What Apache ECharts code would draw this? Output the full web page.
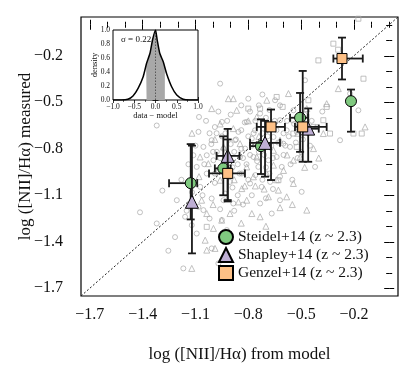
<!DOCTYPE html>
<html>
<head>
<meta charset="utf-8">
<script src="https://cdn.jsdelivr.net/npm/echarts@6/dist/echarts.min.js"></script>
<style>
  html, body { margin: 0; padding: 0; background: #fff; }
  #chart { width: 415px; height: 369px; }
</style>
</head>
<body>
<div id="chart"></div>
<script>
// --- ticks ---
const majorTicks = [-1.7, -1.4, -1.1, -0.8, -0.5, -0.2];
const minorTicks = [-1.6, -1.5, -1.3, -1.2, -1.0, -0.9, -0.7, -0.6, -0.4, -0.3, -0.1, 0.0];
const oneToOne = [-1.75, 0.05];

// --- background sample (grey open markers) ---
const bgCircles = [
  [-1.32,-0.65],[-1.415,-1.21],[-1.288,-1.07],[-1.216,-1.37],[-1.254,-1.458],[-1.169,-1.572],
  [-1.32,-1.282],[-1.083,-0.691],[-1.08,-0.595],[-1.055,-0.788],[-1.036,-0.842],[-1.008,-0.745],
  [-0.998,-0.874],[-0.979,-0.82],[-0.96,-0.38],[-0.95,-0.627],[-0.932,-1.089],[-0.922,-0.853],
  [-0.904,-1.014],[-0.885,-1.153],[-0.875,-0.745],[-0.856,-0.691],[-0.847,-0.853],[-0.837,-0.96],
  [-0.818,-0.799],[-0.809,-0.627],[-0.80,-0.477],[-0.79,-1.024],[-0.78,-0.734],[-0.771,-0.853],
  [-0.762,-0.681],[-0.743,-0.917],[-0.733,-0.573],[-0.724,-1.046],[-0.714,-0.767],[-0.695,-0.681],
  [-0.686,-0.874],[-0.676,-1.014],[-0.657,-0.724],[-0.648,-0.487],[-0.639,-0.853],[-0.62,-0.616],
  [-0.61,-0.917],[-0.601,-0.767],[-0.582,-0.681],[-0.563,-0.788],[-0.544,-0.552],[-0.525,-0.691],
  [-0.497,-1.078],[-0.421,-0.917],[-0.478,-0.358],[-0.279,-0.745],[-0.222,-0.444],[-0.175,-0.552],
  [-0.733,-1.153],[-0.62,-1.132],[-0.667,-1.218],[-0.941,-1.132],[-0.922,-1.325],[-1.083,-1.175],
  [-1.055,-1.196],[-1.008,-1.121],[-0.99,-0.96],[-1.073,-1.046],[-1.036,-0.96],[-1.112,-0.842],
  [-1.093,-0.917],[-1.121,-1.293],[-1.093,-1.347],[-1.008,-1.443],[-0.97,-1.54],[-1.206,-1.132],
  [-1.159,-1.239],[-1.02,-0.70],[-0.99,-0.66],[-0.95,-0.72],[-0.90,-0.77],[-0.88,-0.82],
  [-0.86,-0.90],[-0.83,-0.86],[-0.80,-0.72],[-0.78,-0.78],[-0.76,-0.97],[-0.74,-0.82],
  [-0.72,-0.70],[-0.70,-0.92],[-0.67,-0.78],[-0.64,-0.68],[-0.62,-0.98],[-0.60,-0.70],
  [-0.58,-0.62],[-0.56,-0.90],[-0.53,-0.76],[-0.50,-0.82],[-0.48,-0.58],[-0.46,-0.70],
  [-0.44,-0.62],[-1.05,-0.90],[-1.00,-0.82],[-0.97,-0.95],[-0.93,-0.88],[-0.91,-0.98],
  [-0.89,-1.05],[-0.86,-1.10],[-0.84,-0.68],[-0.82,-0.63],[-0.79,-0.56],[-0.76,-0.62],
  [-0.74,-0.52],[-0.70,-0.60],[-0.68,-0.55],[-0.92,-0.62],[-0.97,-0.56],[-1.10,-0.78],
  [-1.14,-0.90],[-1.15,-1.20],[-1.02,-1.25],[-0.96,-1.19],[-0.78,-1.10],[-0.72,-1.00],
  [-0.66,-1.06],[-0.55,-1.00],[-0.60,-0.84],
  [-1.04,-0.62],[-1.01,-0.77],[-0.98,-0.70],[-0.96,-0.86],[-0.94,-0.80],[-0.93,-0.70],
  [-0.89,-0.92],[-0.87,-0.74],[-0.85,-0.96],[-0.84,-0.80],[-0.81,-0.90],[-0.80,-1.00],
  [-0.79,-0.84],[-0.77,-0.70],[-0.75,-0.88],[-0.73,-0.76],[-0.71,-0.84],[-0.69,-0.72],
  [-0.68,-0.96],[-0.66,-0.86],[-0.65,-0.62],[-0.63,-0.76],[-0.59,-0.78],[-0.57,-0.72],
  [-0.54,-0.64],[-0.52,-0.86],[-0.49,-0.74],[-0.45,-0.78],[-0.41,-0.66],[-0.38,-0.56],
  [-1.18,-1.00],[-1.12,-1.08],[-1.06,-1.10],[-0.99,-1.02],[-0.95,-1.26],[-0.88,-1.20],
  [-0.83,-1.16],[-0.70,-1.12],[-0.90,-0.58],[-0.84,-0.52],[-0.72,-0.45],[-0.62,-0.52]
];
const bgTriangles = [
  [-0.913,-0.477],[-0.885,-0.477],[-0.866,-0.552],[-1.008,-0.541],[-0.695,-0.487],[-0.572,-0.444],
  [-0.468,-0.541],[-0.979,-0.939],[-0.96,-1.003],[-0.837,-1.057],[-0.809,-1.132],[-0.904,-1.218],
  [-0.856,-1.143],[-0.78,-1.218],[-0.733,-1.239],[-0.686,-1.11],[-0.582,-1.11],[-0.468,-1.196],
  [-0.544,-1.024],[-0.629,-1.067],[-0.998,-1.314],[-0.951,-1.261],[-1.036,-1.218],[-1.065,-1.132],
  [-1.045,-1.39],[-0.989,-1.443],[-1.036,-1.454],[-1.121,-1.572],[-0.355,-0.509],[-0.289,-0.412],
  [-0.137,-0.659],[-0.374,-0.702],[-0.733,-0.788],[-0.657,-0.81],[-0.809,-0.917],[-0.752,-0.853],
  [-0.62,-0.745],[-0.544,-0.874],[-0.506,-0.853],[-0.43,-0.799],[-1.074,-0.853],[-1.027,-0.896],
  [-0.941,-0.788],[-0.847,-0.767],[-0.885,-0.67],[-0.752,-0.595],[-0.695,-0.96],[-0.657,-0.906],
  [-0.771,-0.981],
  [-0.99,-0.74],[-0.92,-0.96],[-0.88,-1.00],[-0.82,-1.04],[-0.76,-1.04],[-0.71,-1.06],
  [-0.64,-1.00],[-0.60,-0.94],[-0.58,-0.84],[-0.52,-0.70],[-0.48,-0.92],[-0.40,-0.86],
  [-1.08,-0.98],[-1.00,-1.16],[-0.93,-1.36],[-0.84,-1.28],[-0.70,-1.30],[-0.62,-1.18],
  [-0.55,-1.16],[-0.80,-0.62],[-0.74,-0.72],[-0.66,-0.66],[-1.12,-0.70],[-0.96,-0.64]
];
const bgSquares = [
  [-0.175,0.039],[-0.317,-0.122],[-0.402,-0.23],[-0.29,-0.161],[-0.146,-0.348],[-0.156,-0.702],
  [-0.733,-0.541],[-0.639,-0.466],[-0.605,-0.53],[-0.459,-0.487],[-0.374,-0.616],[-0.336,-0.702],
  [-0.525,-0.788],[-0.544,-0.616],[-1.036,-1.304],[-0.629,-1.003],[-0.355,-0.53],[-0.43,-0.659],
  [-0.80,-0.541],[-0.544,-0.702],[-0.203,-0.702]
];

// --- z ~ 2.3 samples: [x, y] and [xlo, xhi, ylo, yhi] ---
const steidelPts = [[-1.127,-1.022],[-0.942,-0.927],[-0.728,-0.783],[-0.506,-0.600],[-0.217,-0.493]];
const steidelErr = [[-1.25,-1.09,-1.256,-0.77],[-0.99,-0.90,-1.10,-0.72],[-0.79,-0.676,-0.963,-0.61],
                    [-0.563,-0.46,-0.82,-0.44],[null,null,-0.69,-0.418]];
const shapleyPts = [[-1.12,-1.142],[-0.917,-0.846],[-0.705,-0.762],[-0.46,-0.67]];
const shapleyErr = [[null,null,-1.475,-0.78],[-0.98,-0.85,-1.131,-0.672],[-0.79,-0.62,-0.98,-0.62],
                    [-0.52,-0.40,-0.884,-0.54]];
const genzelPts = [[-0.917,-0.959],[-0.671,-0.659],[-0.491,-0.659],[-0.268,-0.218]];
const genzelErr = [[-1.023,-0.819,-1.14,-0.74],[-0.752,-0.592,-1.002,-0.547],[-0.535,-0.355,-0.884,-0.298],
                   [-0.317,-0.15,-0.353,-0.083]];

// --- inset: distribution of data - model ---
const densX = [-1.0,-0.8,-0.65,-0.53,-0.41,-0.29,-0.21,-0.13,-0.07,0.0,0.04,0.10,0.18,0.26,0.38,0.50,0.65,0.8,1.0];
const densY = [0.0,0.0,0.01,0.057,0.167,0.333,0.524,0.667,0.857,1.0,0.857,0.667,0.55,0.38,0.19,0.07,0.01,0.0,0.0];
const shadeX = [-0.22,-0.21,-0.13,-0.07,0.0,0.04,0.10,0.18,0.22];
const shadeY = [0.50,0.524,0.667,0.857,1.0,0.857,0.667,0.55,0.47];
const sigma = 0.22;

const FONT = 'Liberation Serif';
const minus = v => (v < 0 ? '\u2212' : '') + Math.abs(v).toFixed(1);

const chart = echarts.init(document.getElementById('chart'), null, { renderer: 'canvas' });

const mainX = (pos, ticks, len, labels) => ({
    gridIndex: 0, type: 'value', min: -1.75, max: 0.05, position: pos,
    axisLine: { show: false }, splitLine: { show: false },
    axisTick: { show: true, inside: true, length: len, customValues: ticks, lineStyle: { color: '#000', width: 1 } },
    axisLabel: labels ? { show: true, customValues: majorTicks, formatter: minus, fontFamily: FONT, fontSize: 16, color: '#111', margin: 11 } : { show: false }
});
const mainY = (pos, ticks, len, labels) => ({
    gridIndex: 0, type: 'value', min: -1.75, max: 0.05, position: pos,
    axisLine: { show: false }, splitLine: { show: false },
    axisTick: { show: true, inside: true, length: len, customValues: ticks, lineStyle: { color: '#000', width: 1 } },
    axisLabel: labels ? { show: true, customValues: majorTicks, formatter: minus, fontFamily: FONT, fontSize: 16, color: '#111', margin: 18 } : { show: false }
});
const insetAx = (pos, min, max, interval, labels, name, gap) => ({
    gridIndex: 1, type: 'value', min: min, max: max, interval: interval, position: pos,
    axisLine: { show: false }, splitLine: { show: false },
    axisTick: { show: true, inside: true, length: 3, lineStyle: { color: '#000', width: 0.8 } },
    minorTick: { show: true, splitNumber: 2, length: 2, lineStyle: { color: '#000', width: 0.6 } },
    axisLabel: labels ? { show: true, formatter: minus, fontFamily: FONT, fontSize: 7.5, color: '#111', margin: 3 } : { show: false },
    name: name || '', nameLocation: 'middle', nameGap: gap || 0, nameMoveOverlap: false,
    nameTextStyle: { fontFamily: FONT, fontSize: 8.5, color: '#111' }
});

// error bars drawn through the axes
const errBars = (pts, errs) => ({
    type: 'custom', xAxisIndex: 0, yAxisIndex: 0, z: 4, silent: true,
    data: pts.map((p, i) => [p[0], p[1]].concat(errs[i].map(v => v === null ? NaN : v))),
    encode: { x: 0, y: 1 },
    renderItem: (params, api) => {
        const x = api.value(0), y = api.value(1);
        const xlo = api.value(2), xhi = api.value(3), ylo = api.value(4), yhi = api.value(5);
        const st = { stroke: '#1a1a1a', lineWidth: 1.8 };
        const cap = 4;
        const kids = [];
        const seg = (a, b) => kids.push({ type: 'line', shape: { x1: a[0], y1: a[1], x2: b[0], y2: b[1] }, style: st });
        if (!isNaN(ylo)) {
            const a = api.coord([x, ylo]), b = api.coord([x, yhi]);
            seg(a, b);
            seg([a[0] - cap, a[1]], [a[0] + cap, a[1]]);
            seg([b[0] - cap, b[1]], [b[0] + cap, b[1]]);
        }
        if (!isNaN(xlo)) {
            const a = api.coord([xlo, y]), b = api.coord([xhi, y]);
            seg(a, b);
            seg([a[0], a[1] - cap], [a[0], a[1] + cap]);
            seg([b[0], b[1] - cap], [b[0], b[1] + cap]);
        }
        return { type: 'group', children: kids };
    }
});

const bgStyle = { color: 'rgba(0,0,0,0)', borderColor: '#a9a9a9', borderWidth: 0.9 };
const markStyle = c => ({ color: c, borderColor: '#000', borderWidth: 1, opacity: 1 });

const option = {
    animation: false,
    backgroundColor: '#fff',
    grid: [
        { left: 81, right: 17, top: 17, bottom: 73, show: true, borderColor: '#000', borderWidth: 1.2, backgroundColor: 'transparent' },
        { left: 113, top: 30, width: 85, height: 70, show: true, borderColor: '#000', borderWidth: 1, backgroundColor: '#fff', z: 3 }
    ],
    xAxis: [
        Object.assign(mainX('bottom', majorTicks, 5, true), {
            name: 'log ([NII]/H\u03b1) from model', nameLocation: 'middle', nameGap: 50, nameMoveOverlap: false,
            nameTextStyle: { fontFamily: FONT, fontSize: 17, color: '#111' }
        }),
        mainX('bottom', minorTicks, 3, false),
        mainX('top', majorTicks, 5, false),
        mainX('top', minorTicks, 3, false),
        insetAx('bottom', -1, 1, 0.5, true, 'data \u2212 model', 11),
        insetAx('top', -1, 1, 0.5, false)
    ],
    yAxis: [
        Object.assign(mainY('left', majorTicks, 5, true), {
            name: 'log ([NII]/H\u03b1) measured', nameLocation: 'middle', nameGap: 47, nameRotate: 90, nameMoveOverlap: false,
            nameTextStyle: { fontFamily: FONT, fontSize: 17, color: '#111' }
        }),
        mainY('left', minorTicks, 3, false),
        mainY('right', majorTicks, 5, false),
        mainY('right', minorTicks, 3, false),
        insetAx('left', 0, 1, 0.2, true, 'density', 14),
        insetAx('right', 0, 1, 0.2, false)
    ],
    legend: {
        orient: 'vertical', left: 213, top: 224, itemWidth: 14, itemHeight: 14, itemGap: 2,
        textStyle: { fontFamily: FONT, fontSize: 15.5, color: '#111' },
        data: ['Steidel+14 (z ~ 2.3)', 'Shapley+14 (z ~ 2.3)', 'Genzel+14 (z ~ 2.3)']
    },
    graphic: [
        { type: 'text', left: 121, top: 35, z: 10,
          style: { text: '\u03c3 = ' + sigma.toFixed(2), font: '9px "Liberation Serif"', fill: '#111' } }
    ],
    series: [
        { type: 'scatter', xAxisIndex: 0, yAxisIndex: 0, symbol: 'circle', symbolSize: 5, data: bgCircles, itemStyle: bgStyle, z: 1, silent: true },
        { type: 'scatter', xAxisIndex: 0, yAxisIndex: 0, symbol: 'triangle', symbolSize: 6, data: bgTriangles, itemStyle: bgStyle, z: 1, silent: true },
        { type: 'scatter', xAxisIndex: 0, yAxisIndex: 0, symbol: 'rect', symbolSize: 5, data: bgSquares, itemStyle: bgStyle, z: 1, silent: true },
        { type: 'line', xAxisIndex: 0, yAxisIndex: 0, data: [[oneToOne[0], oneToOne[0]], [oneToOne[1], oneToOne[1]]],
          symbol: 'none', lineStyle: { color: '#222', width: 1, type: [2, 2] }, z: 2, silent: true },
        Object.assign(errBars(steidelPts, steidelErr), { z: 4 }),
        { name: 'Steidel+14 (z ~ 2.3)', type: 'scatter', xAxisIndex: 0, yAxisIndex: 0, symbol: 'circle', symbolSize: 11,
          data: steidelPts, itemStyle: markStyle('#7fc97f'), z: 5 },
        Object.assign(errBars(shapleyPts, shapleyErr), { z: 6 }),
        { name: 'Shapley+14 (z ~ 2.3)', type: 'scatter', xAxisIndex: 0, yAxisIndex: 0, symbol: 'triangle', symbolSize: 13,
          data: shapleyPts, itemStyle: markStyle('#beaed4'), z: 7 },
        Object.assign(errBars(genzelPts, genzelErr), { z: 8 }),
        { name: 'Genzel+14 (z ~ 2.3)', type: 'scatter', xAxisIndex: 0, yAxisIndex: 0, symbol: 'rect', symbolSize: 10,
          data: genzelPts, itemStyle: markStyle('#fdc086'), z: 9 },
        // inset
        { type: 'line', xAxisIndex: 4, yAxisIndex: 4, data: shadeX.map((x, i) => [x, shadeY[i]]), symbol: 'none',
          lineStyle: { width: 0 }, areaStyle: { color: '#a8a8a8', opacity: 1 }, z: 10, silent: true },
        { type: 'line', xAxisIndex: 4, yAxisIndex: 4, data: [[0, 0], [0, 1]], symbol: 'none',
          lineStyle: { color: '#444', width: 0.8, type: [1.5, 1.5] }, z: 11, silent: true },
        { type: 'line', xAxisIndex: 4, yAxisIndex: 4, data: densX.map((x, i) => [x, densY[i]]), symbol: 'none', smooth: 0.2,
          lineStyle: { color: '#000', width: 1.5 }, z: 12, silent: true }
    ]
};

chart.setOption(option);
</script>
</body>
</html>
